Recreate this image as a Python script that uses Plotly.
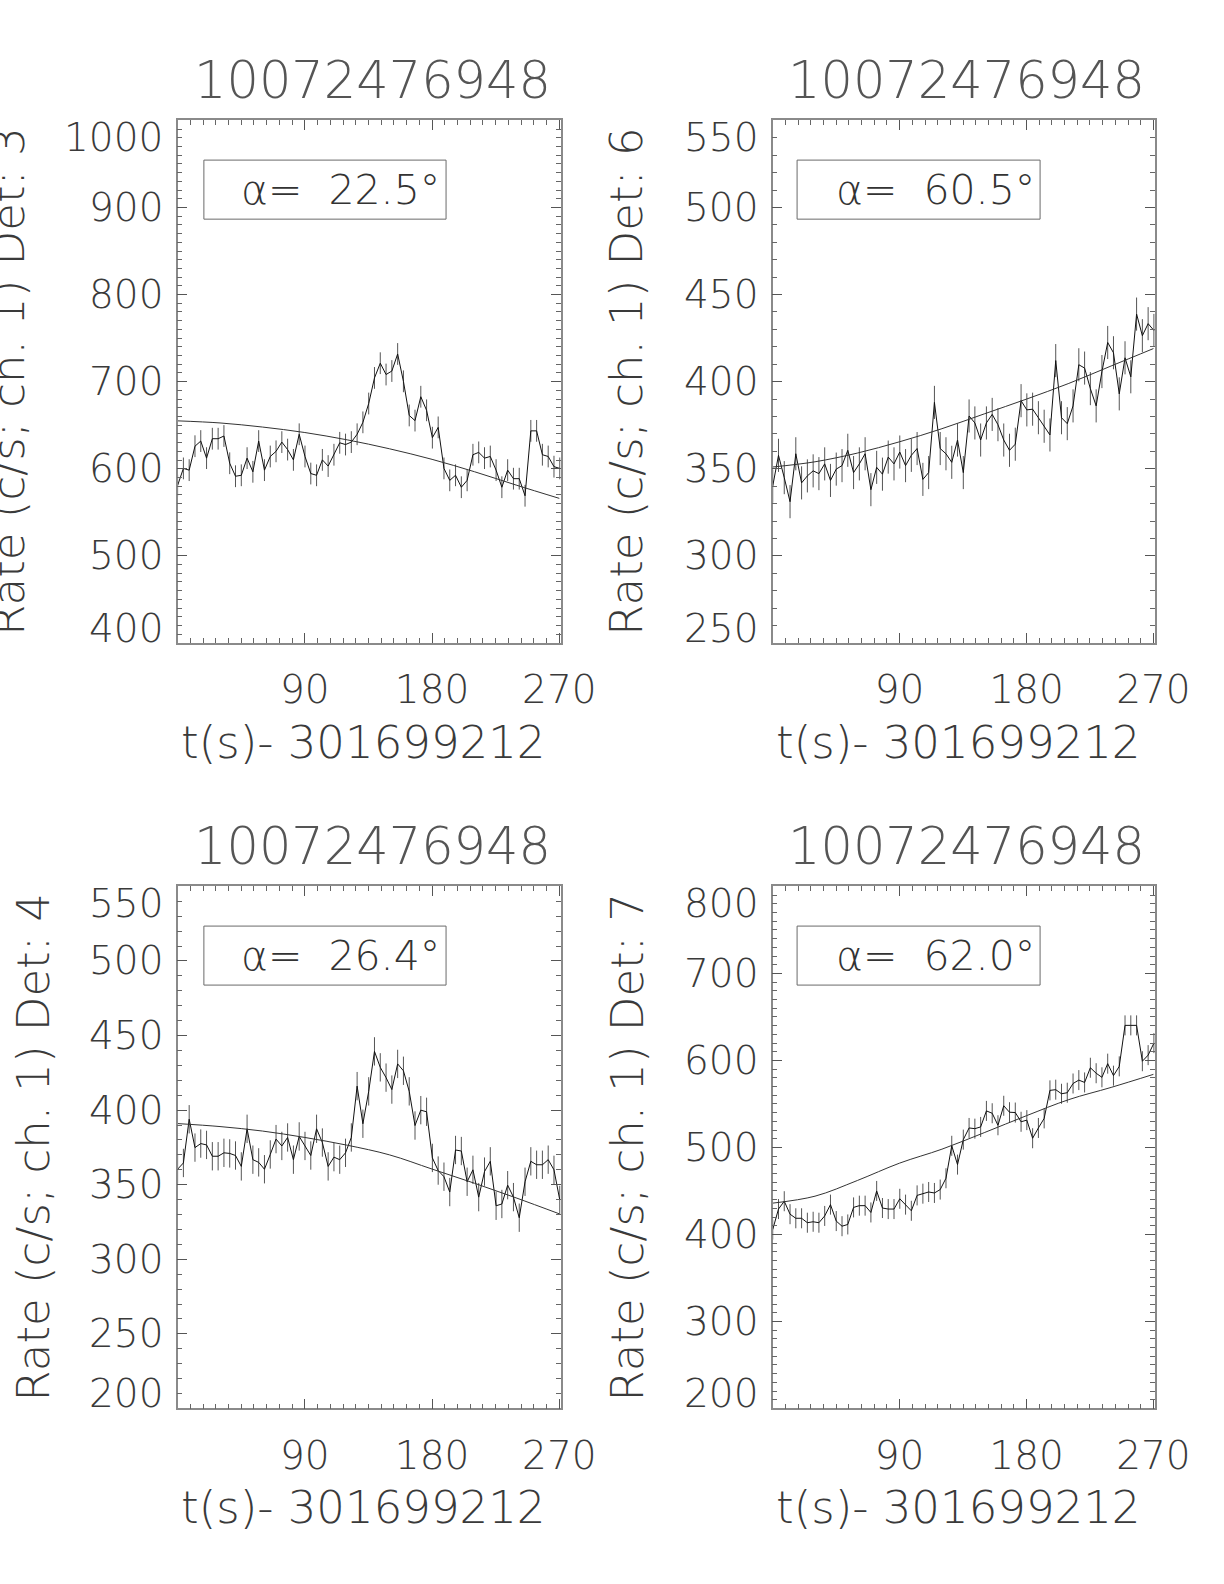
import plotly.graph_objects as go

# ---------------- data ----------------
BIN_WIDTH = 4.096          # s, light-curve bin
TITLE = "10072476948"
XLABEL = "t(s)- 301699212"

detectors = [3, 6, 4, 7]
alpha_deg = ["22.5", "60.5", "26.4", "62.0"]

y_ranges = [[400, 1000], [250, 550], [200, 550], [200, 800]]
y_ticks = [[400, 500, 600, 700, 800, 900, 1000],
           [250, 300, 350, 400, 450, 500, 550],
           [200, 250, 300, 350, 400, 450, 500, 550],
           [200, 300, 400, 500, 600, 700, 800]]
x_ticks = [90, 180, 270]
x_range = [0, 271]

rate_det3 = [580.8, 600.4, 598.4, 625.9, 631.8, 612.2, 634.5, 634.5, 637.6, 606.3,
             591.4, 592.5, 612.2, 596.5, 631.8, 598.4, 614.1, 620.0, 630.6, 622.0,
             610.2, 639.6, 614.1, 594.5, 592.5, 610.2, 603.1, 616.1, 629.8, 627.8,
             630.6, 639.6, 653.3, 674.9, 704.3, 721.2, 708.2, 712.2, 731.8, 700.4,
             661.2, 655.3, 682.7, 667.1, 635.7, 647.5, 600.4, 586.7, 592.5, 578.8,
             586.7, 616.1, 618.8, 612.2, 614.1, 598.4, 578.8, 598.4, 588.6, 588.6,
             569.0, 643.5, 643.5, 616.1, 614.1, 602.4, 600.4]
rate_det6 = [340.0, 357.7, 344.9, 331.1, 358.6, 341.9, 345.9, 348.8, 347.2, 352.8,
             343.3, 349.8, 351.8, 360.6, 347.8, 352.8, 358.6, 338.0, 350.8, 346.9,
             356.7, 352.8, 359.6, 351.8, 357.7, 361.6, 343.9, 347.8, 388.1, 361.6,
             358.6, 353.7, 366.5, 347.8, 380.3, 376.3, 366.5, 376.3, 381.2, 375.3,
             366.5, 360.6, 364.1, 389.1, 383.8, 384.2, 379.3, 374.4, 369.4, 412.1,
             379.3, 375.9, 386.1, 409.7, 407.8, 396.0, 386.1, 405.8, 422.5, 416.6,
             393.0, 413.7, 402.8, 438.8, 426.4, 433.3, 429.4]
rate_det4 = [360.4, 364.6, 393.9, 374.9, 377.6, 376.7, 369.1, 369.1, 371.4, 371.0,
             369.6, 362.3, 387.5, 366.8, 365.0, 360.4, 370.3, 380.6, 376.0, 381.7,
             366.8, 382.4, 376.0, 369.6, 387.5, 378.3, 362.3, 368.5, 366.8, 371.4,
             381.7, 416.1, 390.9, 412.6, 439.4, 428.7, 421.8, 413.8, 431.0, 426.4,
             412.6, 389.7, 400.0, 398.9, 368.0, 359.5, 355.4, 345.1, 373.3, 372.6,
             352.0, 360.0, 341.7, 358.8, 365.7, 335.9, 337.1, 349.7, 341.7, 327.9,
             352.0, 365.7, 363.4, 363.4, 366.8, 360.0, 339.8]
rate_det7 = [405.6, 429.2, 438.2, 423.3, 418.6, 418.6, 413.5, 414.6, 413.5, 421.3,
             434.3, 415.4, 409.5, 411.5, 431.1, 433.1, 433.1, 425.3, 450.0, 430.4,
             429.2, 429.2, 441.0, 434.3, 427.2, 444.9, 446.9, 448.8, 447.7, 451.6,
             464.6, 501.9, 480.3, 509.0, 522.4, 521.6, 523.6, 542.0, 539.3, 525.5,
             547.9, 540.5, 540.1, 529.5, 531.4, 510.6, 522.4, 533.4, 565.6, 566.4,
             561.7, 562.9, 573.5, 577.4, 574.7, 591.6, 585.3, 580.6, 596.3, 582.5,
             593.2, 640.3, 640.3, 640.3, 599.1, 606.1, 619.9]
rates = [rate_det3, rate_det6, rate_det4, rate_det7]
errors = [12.5, 9.5, 9.5, 11.5]          # 1-sigma half-lengths of the bars

fit_t = [0, 30, 60, 90, 120, 150, 180, 210, 240, 270]
fit_det3 = [655.0, 652.6, 647.9, 641.6, 633.2, 622.9, 610.8, 596.6, 581.0, 566.0]
fit_det6 = [351.0, 354.0, 359.0, 365.5, 373.0, 381.5, 390.0, 399.0, 409.0, 419.0]
fit_det4 = [391.0, 389.0, 386.0, 381.7, 376.5, 370.0, 360.5, 351.0, 341.0, 330.5]
fit_det7 = [436.0, 444.0, 462.0, 482.0, 498.0, 517.0, 536.5, 555.0, 569.0, 584.0]
fits = [fit_det3, fit_det6, fit_det4, fit_det7]

# ---------------- layout / style ----------------
W, H = 1224, 1584
FONT = "DejaVu Sans"
WEIGHT = 200
TXT = "#3a3a3a"
x_domains = [[0.1451, 0.4581], [0.6313, 0.9435], [0.1451, 0.4581], [0.6313, 0.9435]]
y_domains = [[0.5941, 0.9240], [0.5941, 0.9240], [0.1108, 0.4404], [0.1108, 0.4404]]
box_x = [[0.0686, 0.7007], [0.0638, 0.6997], [0.0686, 0.7007], [0.0638, 0.6997]]
ytitle_x = [9, 627, 33, 627]   # px centre of rotated y titles

fig = go.Figure()
annotations = []
shapes = []

for i in range(4):
    n = i + 1
    xa = "x" if n == 1 else f"x{n}"
    ya = "y" if n == 1 else f"y{n}"
    t = [k * BIN_WIDTH for k in range(len(rates[i]))]
    fig.add_trace(go.Scatter(
        x=t, y=rates[i], mode="lines", xaxis=xa, yaxis=ya,
        line=dict(color="#111111", width=1),
        error_y=dict(type="constant", value=errors[i], color="#555555",
                     thickness=1, width=0),
        showlegend=False, hoverinfo="skip"))
    fig.add_trace(go.Scatter(
        x=fit_t, y=fits[i], mode="lines", xaxis=xa, yaxis=ya,
        line=dict(color="#333333", width=1, shape="spline", smoothing=1.0),
        showlegend=False, hoverinfo="skip"))

    axis_common = dict(
        showgrid=False, zeroline=False, showline=True, linecolor="#8a8a8a",
        linewidth=1.5, mirror="ticks", ticks="inside", tickcolor="#555555",
        tickwidth=1, ticklen=10, automargin=False)
    fig.update_layout(**{
        ("xaxis" if n == 1 else f"xaxis{n}"): dict(
            axis_common, domain=x_domains[i], anchor=ya, range=x_range,
            tickvals=x_ticks, ticktext=[str(v) for v in x_ticks],
            tickfont=dict(family=FONT, size=39, color=TXT, weight=WEIGHT),
            ticklabelstandoff=12,
            minor=dict(dtick=9, tick0=0, ticks="inside", ticklen=5,
                       tickcolor="#666666", tickwidth=1)),
        ("yaxis" if n == 1 else f"yaxis{n}"): dict(
            axis_common, domain=y_domains[i], anchor=xa, range=y_ranges[i],
            tickvals=y_ticks[i], showticklabels=False,
            minor=dict(dtick=10, tick0=0, ticks="inside", ticklen=5,
                       tickcolor="#666666", tickwidth=1)),
    })

    dx = f"{xa} domain"
    dy = f"{ya} domain"
    # y tick labels (end labels kept inside the frame, as in the original)
    lo, hi = y_ranges[i]
    for v in y_ticks[i]:
        if v == hi:
            anc, ys = "top", 7
        elif v == lo:
            anc, ys = "bottom", -10
        else:
            anc, ys = "middle", 0
        annotations.append(dict(
            xref=dx, yref=ya, x=0, y=v, text=str(v), showarrow=False,
            xanchor="right", yanchor=anc, xshift=-13, yshift=ys,
            font=dict(family=FONT, size=39, color=TXT, weight=WEIGHT)))
    # panel title
    annotations.append(dict(
        xref=dx, yref=dy, x=0.5, y=1, text=TITLE, showarrow=False,
        xanchor="center", yanchor="bottom", yshift=8, xshift=3,
        font=dict(family=FONT, size=51, color="#555555", weight=WEIGHT)))
    # x axis title
    annotations.append(dict(
        xref=dx, yref=dy, x=0.5, y=0, text=XLABEL, showarrow=False,
        xanchor="center", yanchor="top", yshift=-71, xshift=-6,
        font=dict(family=FONT, size=45, color=TXT, weight=WEIGHT)))
    # y axis title
    annotations.append(dict(
        xref="paper", yref=dy, x=ytitle_x[i] / W, y=0.5,
        text=f"Rate (c/s; ch. 1) Det: {detectors[i]}", showarrow=False,
        xanchor="center", yanchor="middle", textangle=-90,
        font=dict(family=FONT, size=45, color=TXT, weight=WEIGHT)))
    # alpha box + text
    shapes.append(dict(type="rect", xref=dx, yref=dy,
                       x0=box_x[i][0], x1=box_x[i][1], y0=0.811, y1=0.924,
                       line=dict(color="#6a6a6a", width=1)))
    annotations.append(dict(
        xref=dx, yref=dy, x=0.425, y=0.8675,
        text=f"α=\u00a0\u00a0{alpha_deg[i]}°", showarrow=False,
        xanchor="center", yanchor="middle",
        font=dict(family=FONT, size=41, color="#333333", weight=WEIGHT)))

fig.update_layout(
    width=W, height=H, autosize=False, margin=dict(l=0, r=0, t=0, b=0, pad=0),
    paper_bgcolor="white", plot_bgcolor="white",
    font=dict(family=FONT, color=TXT, weight=WEIGHT),
    annotations=annotations, shapes=shapes, showlegend=False)

fig.write_html(
    "out.html",
    config={"responsive": False, "displayModeBar": False},
    default_width=f"{W}px", default_height=f"{H}px",
    post_script="document.body.style.margin='0';document.body.style.overflow='hidden';")
